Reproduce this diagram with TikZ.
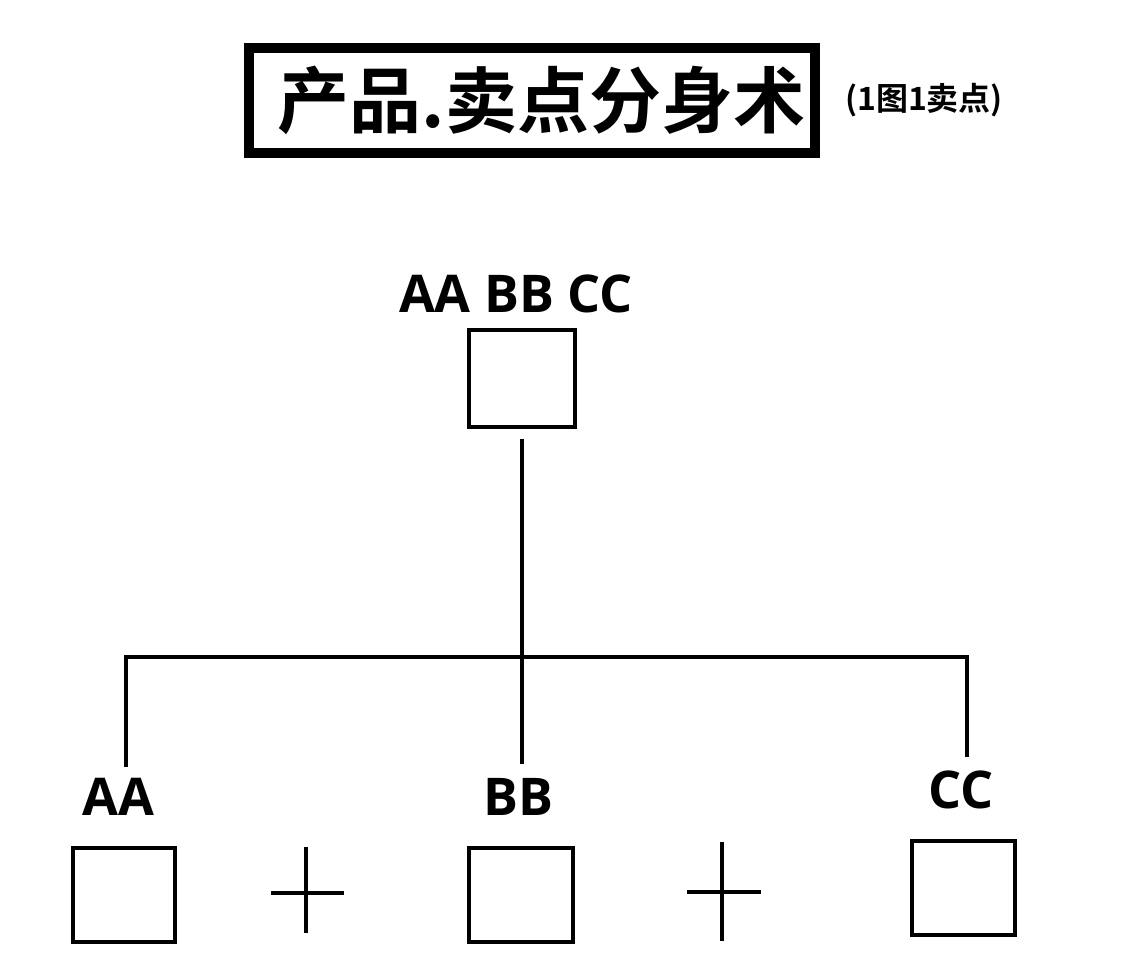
\documentclass[tikz,border=0pt]{standalone}
\usepackage{fontspec}
\newfontfamily\cjk{Noto Sans CJK SC}[BoldFont={* Bold}]
\newfontfamily\lat{Open Sans}
\begin{document}
\begin{tikzpicture}[x=1pt,y=-1pt,
  ln/.style={line width=4pt},
  sq/.style={draw,line width=4pt,inner sep=0pt,rectangle},
  lab/.style={font=\lat\bfseries\fontsize{52}{56}\selectfont,inner sep=0pt,anchor=base}]
\useasboundingbox[fill=white] (0,0) rectangle (1148,978);
% title
\node[draw,line width=10pt,minimum width=566pt,minimum height=105pt,inner sep=0pt] (titlebox) at (532,100.5) {};
\node[font=\cjk\bfseries\fontsize{72}{78}\selectfont,inner sep=0pt] (titletext) at (541.5,100) {产品.卖点分身术};
\node[font=\cjk\bfseries\fontsize{32}{36}\selectfont,inner sep=0pt] (sub) at (924,100) {(1图1卖点)};
% top
\node[lab] (toplab) at (516,312) {AA BB CC};
\node[sq,minimum width=106pt,minimum height=97pt] (top) at (522,378.5) {};
% junctions
\coordinate (j) at (522,657);
\coordinate (la) at (126,767);
\coordinate (lb) at (522,764);
\coordinate (lc) at (967,757);
\draw[ln,shorten <=10pt] (top.south) -- (j);
\draw[ln] (la) |- (j) -| (lc);
\draw[ln] (j) -- (lb);
% labels
\node[lab] (aa) at (118,815) {AA};
\node[lab] (bb) at (518,815) {BB};
\node[lab] (cc) at (961,808) {CC};
% boxes
\node[sq,minimum width=102pt,minimum height=94pt] (boxa) at (124,895) {};
\node[sq,minimum width=104pt,minimum height=94pt] (boxb) at (521,895) {};
\node[sq,minimum width=103pt,minimum height=94pt] (boxc) at (963.5,888) {};
% plus signs
\draw[ln] (306,847) -- (306,933) (271,893) -- (344,893);
\draw[ln] (722,842) -- (722,941) (687,892) -- (761,892);
\end{tikzpicture}
\end{document}
